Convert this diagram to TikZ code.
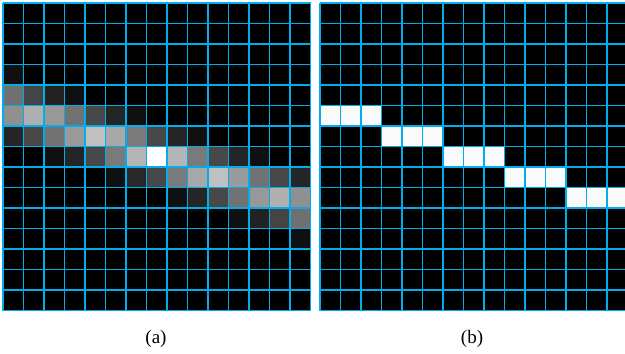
\documentclass[tikz,border=0pt]{standalone}
\usepackage{fontspec}
\setmainfont{Liberation Serif}
\begin{document}
\begin{tikzpicture}[x=1pt,y=-1pt,
  gridline/.style={draw={rgb,255:red,0;green,174;blue,235}, line width=1.3pt},
  lbl/.style={font=\fontsize{19}{22}\selectfont, inner sep=0pt}]
\useasboundingbox (0,0) rectangle (625,354);
% ---------- panel (a)
\fill[black] (3,3) rectangle (310.5,310.5);
\foreach \r/\c/\v in {3/0/16,
 4/0/112, 4/1/68, 4/2/34, 4/3/16,
 5/0/144, 5/1/176, 5/2/152, 5/3/114, 5/4/72, 5/5/37, 5/6/16,
 6/0/37, 6/1/72, 6/2/114, 6/3/154, 6/4/192, 6/5/168, 6/6/122, 6/7/72, 6/8/37, 6/9/16,
 7/2/16, 7/3/37, 7/4/72, 7/5/122, 7/6/181, 7/7/255, 7/8/181, 7/9/122, 7/10/72, 7/11/37, 7/12/16,
 8/5/16, 8/6/40, 8/7/72, 8/8/122, 8/9/168, 8/10/192, 8/11/154, 8/12/114, 8/13/72, 8/14/37,
 9/8/16, 9/9/37, 9/10/72, 9/11/114, 9/12/152, 9/13/176, 9/14/144,
 10/11/16, 10/12/34, 10/13/68, 10/14/112,
 11/14/16} {
  \definecolor{cellc}{RGB}{\v,\v,\v}
  \fill[cellc] ({3+\c*20.5},{3+\r*20.5}) rectangle ++(20.5,20.5);
}
\foreach \i in {0,...,15} {
  \draw[gridline] ({3+\i*20.5},3) -- ({3+\i*20.5},310.5);
  \draw[gridline] (3,{3+\i*20.5}) -- (310.5,{3+\i*20.5});
}
% ---------- panel (b)
\begin{scope}
\clip (0,0) rectangle (625,354);
\fill[black] (320,3) rectangle (627.5,310.5);
\definecolor{whitec}{RGB}{250,250,250}
\foreach \r/\c in {5/0,5/1,5/2,6/3,6/4,6/5,7/6,7/7,7/8,8/9,8/10,8/11,9/12,9/13,9/14} {
  \fill[whitec] ({320+\c*20.5},{3+\r*20.5}) rectangle ++(20.5,20.5);
}
\foreach \i in {0,...,15} {
  \draw[gridline] ({320+\i*20.5},3) -- ({320+\i*20.5},310.5);
  \draw[gridline] (320,{3+\i*20.5}) -- (627.5,{3+\i*20.5});
}
\end{scope}
% ---------- labels
\node[lbl] (la) at (156,339) {(a)};
\node[lbl] (lb) at (472,339) {(b)};
\end{tikzpicture}
\end{document}
